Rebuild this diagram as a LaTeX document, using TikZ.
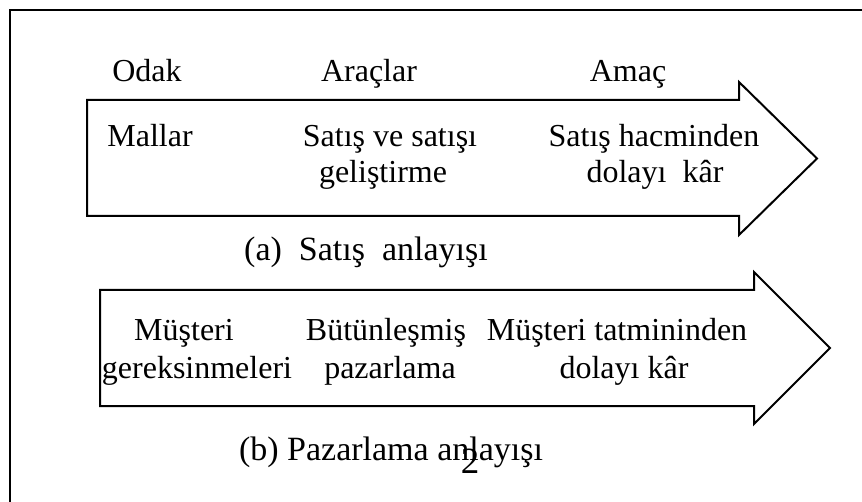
\documentclass[tikz,border=0pt]{standalone}
\usepackage{fontspec}
\setmainfont{Liberation Serif}
\begin{document}
\begin{tikzpicture}[x=1pt,y=-1pt,
  txt/.style={anchor=base,inner sep=0pt,font=\fontsize{32}{37}\selectfont},
  captxt/.style={anchor=base,inner sep=0pt,font=\fontsize{34}{39}\selectfont},
  arrowshape/.style={draw=black,line width=2pt,line join=miter,fill=white},
  frameline/.style={draw=black,line width=2pt}]
\useasboundingbox (0,0) rectangle (862,502);
% frame (only top and left visible)
\draw[frameline] (10,502) -- (10,10) -- (862,10);
% arrow (a)
\draw[arrowshape] (87,100) -- (739,100) -- (739,82) -- (817,158.5) -- (739,235) -- (739,216) -- (87,216) -- cycle;
% arrow (b)
\draw[arrowshape] (100,290) -- (754,290) -- (754,272) -- (830,348) -- (754,424) -- (754,406) -- (100,406) -- cycle;
% headings
\node[txt] (odak) at (147,82) {Odak};
\node[txt] (araclar) at (369,82) {Araçlar};
\node[txt] (amac) at (628,82) {Amaç};
% arrow (a) texts
\node[txt] (mallar) at (150,147) {Mallar};
\node[txt] (satis1) at (390,147) {Satış ve satışı};
\node[txt] (satis2) at (383,183) {geliştirme};
\node[txt] (hacim1) at (654,147) {Satış hacminden};
\node[txt] (hacim2) at (655,183) {dolayı\ \ kâr};
\node[captxt] (capa) at (366,261) {(a)\ \ Satış\ \ anlayışı};
% arrow (b) texts
\node[txt] (must1) at (184,341) {Müşteri};
\node[txt] (must2) at (197,379) {gereksinmeleri};
\node[txt] (butun1) at (386,341) {Bütünleşmiş};
\node[txt] (butun2) at (390,379) {pazarlama};
\node[txt] (tatmin1) at (617,341) {Müşteri tatmininden};
\node[txt] (tatmin2) at (624,379) {dolayı kâr};
\node[captxt] (capb) at (391,460) {(b) Pazarlama anlayışı};
% page number
\node[anchor=base,inner sep=0pt,font=\fontsize{37}{42}\selectfont] (pnum) at (470,473) {2};
\end{tikzpicture}
\end{document}
